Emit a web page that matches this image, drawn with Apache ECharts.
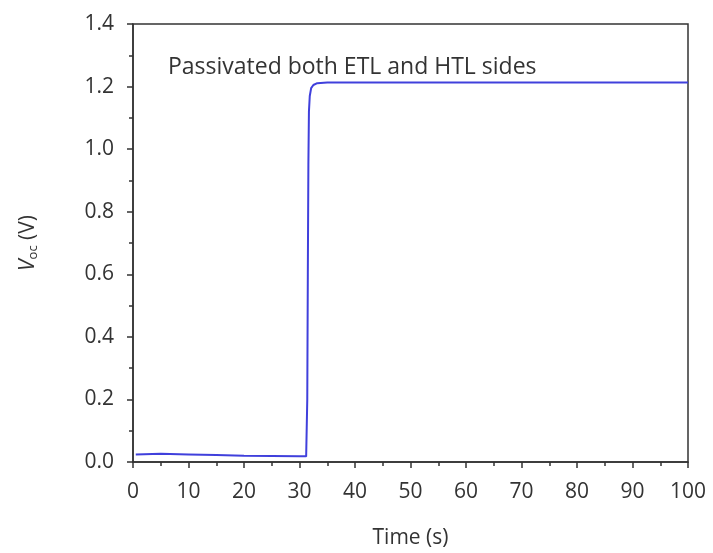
<!DOCTYPE html>
<html><head><meta charset="utf-8">
<script src="https://cdn.jsdelivr.net/npm/echarts@6/dist/echarts.min.js"></script>
<style>html,body{margin:0;padding:0;background:#fff}#c{width:713px;height:553px}</style>
</head><body><div id="c"></div>
<script>
var timeS = [0.5, 5, 10, 15, 20, 25, 30, 31.2, 31.4, 31.5, 31.6, 31.7, 31.85, 32.1, 32.5, 33.2, 35, 50, 70, 100];
var vocV  = [0.024, 0.026, 0.024, 0.022, 0.020, 0.019, 0.018, 0.018, 0.2, 0.6, 0.95, 1.12, 1.17, 1.195, 1.205, 1.211, 1.213, 1.213, 1.213, 1.213];
var annotation = 'Passivated both ETL and HTL sides';
var FONT = 'Open Sans';
var FS = 21;
var chart = echarts.init(document.getElementById('c'));
var axisCommon = {
  axisLine:{show:true,onZero:false,lineStyle:{color:'#333',width:1.5}},
  axisTick:{show:true,inside:false,length:6,lineStyle:{color:'#333',width:1.5}},
  minorTick:{show:true,splitNumber:2,length:4,lineStyle:{color:'#333',width:1.5}},
  splitLine:{show:false}
};
chart.setOption({
  animation:false,
  grid:{left:133,top:24,right:25,bottom:91,show:true,borderColor:'#333',borderWidth:1.5,
    containLabel:false,outerBoundsMode:'none'},
  xAxis:Object.assign({type:'value',min:0,max:100,interval:10,
    name:'Time (s)',nameLocation:'middle',nameGap:66,
    nameTextStyle:{color:'#333',fontSize:FS,fontFamily:FONT}},axisCommon,
    {axisLabel:{color:'#333',fontSize:FS,fontFamily:FONT,margin:20}}),
  yAxis:Object.assign({type:'value',min:0,max:1.4,interval:0.2,
    name:'{i|V}{s|oc}{n| (V)}',nameLocation:'middle',nameGap:93,nameRotate:90,
    nameTextStyle:{rich:{
      i:{fontStyle:'italic',fontSize:FS,fontFamily:FONT,color:'#333'},
      s:{fontSize:13,fontFamily:FONT,color:'#333',verticalAlign:'bottom',padding:[10,0,0,0]},
      n:{fontSize:FS,fontFamily:FONT,color:'#333'}}}},axisCommon,
    {axisLabel:{color:'#333',fontSize:FS,fontFamily:FONT,margin:19,formatter:function(v){return v.toFixed(1);}}}),
  series:[{type:'line',data:timeS.map(function(t,i){return [t,vocV[i]];}),
    showSymbol:false,symbol:'none',lineStyle:{color:'#4040dc',width:2},
    markPoint:{symbol:'circle',symbolSize:1,silent:true,itemStyle:{color:'rgba(0,0,0,0)'},
      data:[{coord:[39.5,1.26],label:{show:true,position:'inside',formatter:annotation,
      color:'#333',fontSize:23,fontFamily:FONT}}]}}]
});
</script></body></html>
